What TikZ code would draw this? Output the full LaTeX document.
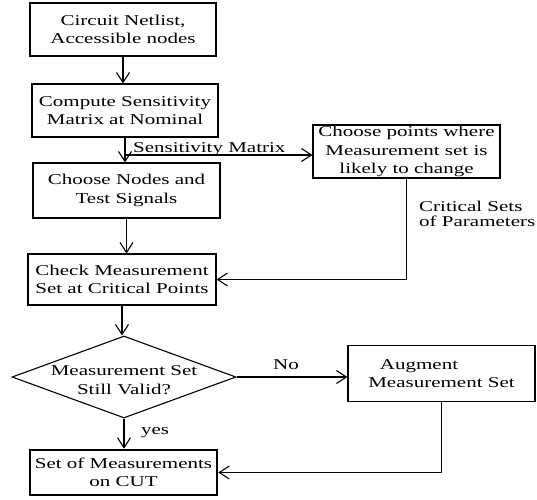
\documentclass[tikz,border=0pt]{standalone}
\usepackage{fontspec}
\setmainfont[FakeStretch=1.4]{Liberation Serif}
\usetikzlibrary{shapes.geometric,arrows.meta}
\begin{document}
\begin{tikzpicture}[x=1pt,y=-1pt,
  font=\fontsize{15}{18.5}\selectfont,
  box/.style={draw,line width=1.1pt,rectangle,align=center,inner sep=0pt},
  dia/.style={draw,line width=1.1pt,diamond,inner sep=0pt},
  arr/.style={line width=1.1pt,-{Straight Barb[length=10pt,width=13pt,line width=1.1pt]}},
  lab/.style={inner sep=0pt}
]
\useasboundingbox (0,0) rectangle (537,499);
\node[box,minimum width=186pt,minimum height=53pt] (b1) at (123,29.5) {Circuit Netlist,\\Accessible nodes};
\node[box,minimum width=186pt,minimum height=53pt] (b2) at (125,110.5) {Compute Sensitivity\\Matrix at Nominal};
\node[box,minimum width=187pt,minimum height=55pt] (b3) at (126.5,190.5) {Choose Nodes and\\Test Signals};
\node[box,minimum width=187pt,minimum height=53pt] (b4) at (406.5,151.5) {Choose points where\\Measurement set is\\likely to change};
\node[box,minimum width=188pt,minimum height=51pt] (b5) at (122,279.5) {Check Measurement\\Set at Critical Points};
\node[dia,minimum width=224pt,minimum height=82pt] (d) at (124,377) {};
\node[lab,align=center] (dt) at (124,380) {Measurement Set\\Still Valid?};
\node[box,minimum width=187pt,minimum height=56pt] (b6) at (441.5,373.5) {Augment\hspace*{3em}\\Measurement Set};
\node[box,line width=2.6pt,minimum width=187pt,minimum height=45pt] (b7) at (123.5,472.5) {Set of Measurements\\on CUT};

\coordinate (sj) at (125,155);
\draw[arr] (b1.south) -- (b1.south |- b2.north);
\draw[arr] (b2.south) -- (b2.south |- b3.north);
\draw[arr] (sj) -- (sj -| b4.west);
\node[lab,anchor=base west] (sl) at (133,152) {Sensitivity Matrix};
\draw[arr] (b3.south) -- (b3.south |- b5.north);
\draw[arr] (b4.south) -- (b4.south |- b5.east) -- (b5.east);
\node[lab,anchor=north west,align=left,font=\fontsize{15}{15}\selectfont] (cl) at (419,201) {Critical Sets\\of Parameters};
\draw[arr] (b5.south) -- (b5.south |- d.north);
\draw[arr] (d.east) -- (d.east -| b6.west);
\node[lab,anchor=base] (no) at (286,369) {No};
\draw[arr] (d.south) -- (d.south |- b7.north);
\node[lab,anchor=base] (yes) at (155,434) {yes};
\draw[arr] (b6.south) -- (b6.south |- b7.east) -- (b7.east);
\end{tikzpicture}
\end{document}
